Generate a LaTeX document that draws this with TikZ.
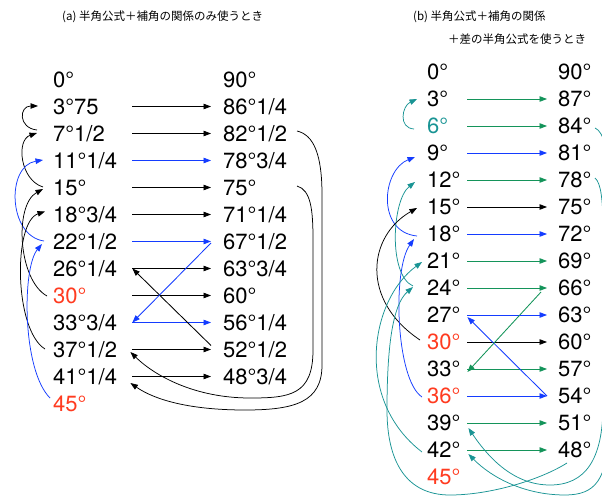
\documentclass[tikz,border=0pt]{standalone}
\usepackage{fontspec}
\setmainfont{TeX Gyre Heros}
\newfontfamily\cjk{Noto Sans CJK JP}
\usetikzlibrary{arrows.meta}
\definecolor{cred}{RGB}{255,59,32}
\definecolor{cblue}{RGB}{20,60,255}
\definecolor{cgreen}{RGB}{20,148,90}
\definecolor{cteal}{RGB}{25,148,148}
\begin{document}
\begin{tikzpicture}[x=1pt,y=-1pt,
  lab/.style={font=\fontsize{22}{26}\selectfont, inner sep=0pt, text height=15.8pt, text depth=0pt, anchor=west},
  lleft/.style={lab, text width=#1, align=left},
  lright/.style={lab, inner xsep=#1},
  ttl/.style={font=\cjk\fontsize{11.5}{14}\selectfont, inner sep=0pt, anchor=west},
  arr/.style={line width=0.85pt, -{Triangle[length=7.5pt,width=5.5pt]}},
  carr/.style={line width=0.75pt, -{Triangle[length=7.5pt,width=5.5pt]}},
]
\fill[white] (0,0) rectangle (602,497);
\useasboundingbox (0,0) rectangle (602,497);

% titles
\node[ttl] (ta) at (62,17) {(a) 半角公式＋補角の関係のみ使うとき};
\node[ttl] (tb1) at (413,17) {(b) 半角公式＋補角の関係};
\node[ttl] (tb2) at (448,39) {＋差の半角公式を使うとき};

% ---------- panel (a) ----------
\node[lleft=79pt] (a0) at (53,79.5) {0°};
\node[lleft=79pt] (a1) at (53,106.5) {3°75};
\node[lleft=79pt] (a2) at (53,133.5) {7°1/2};
\node[lleft=79pt] (a3) at (53,160.5) {11°1/4};
\node[lleft=79pt] (a4) at (53,187.5) {15°};
\node[lleft=79pt] (a5) at (53,214.5) {18°3/4};
\node[lleft=79pt] (a6) at (53,241.5) {22°1/2};
\node[lleft=79pt] (a7) at (53,268.5) {26°1/4};
\node[lleft=79pt,text=cred] (a8) at (53,295.5) {30°};
\node[lleft=79pt] (a9) at (53,322.5) {33°3/4};
\node[lleft=79pt] (a10) at (53,349.5) {37°1/2};
\node[lleft=79pt] (a11) at (53,376.5) {41°1/4};
\node[lleft=79pt,text=cred] (a12) at (53,403.5) {45°};

\node[lright=12pt] (A0) at (211,79.5) {90°};
\node[lright=12pt] (A1) at (211,106.5) {86°1/4};
\node[lright=12pt] (A2) at (211,133.5) {82°1/2};
\node[lright=12pt] (A3) at (211,160.5) {78°3/4};
\node[lright=12pt] (A4) at (211,187.5) {75°};
\node[lright=12pt] (A5) at (211,214.5) {71°1/4};
\node[lright=12pt] (A6) at (211,241.5) {67°1/2};
\node[lright=12pt] (A7) at (211,268.5) {63°3/4};
\node[lright=12pt] (A8) at (211,295.5) {60°};
\node[lright=12pt] (A9) at (211,322.5) {56°1/4};
\node[lright=12pt] (A10) at (211,349.5) {52°1/2};
\node[lright=12pt] (A11) at (211,376.5) {48°3/4};

\draw[arr] (a1.east) -- (A1.west);
\draw[arr] (a2.east) -- (A2.west);
\draw[arr,cblue] (a3.east) -- (A3.west);
\draw[arr] (a4.east) -- (A4.west);
\draw[arr] (a5.east) -- (A5.west);
\draw[arr,cblue] (a6.east) -- (A6.west);
\draw[arr] (a7.east) -- (A7.west);
\draw[arr] (a8.east) -- (A8.west);
\draw[arr,cblue] (a9.east) -- (A9.west);
\draw[arr] (a10.east) -- (A10.west);
\draw[arr] (a11.east) -- (A11.west);

\draw[arr] ([shift={(0,-4)}]A10.west) -- (a7.east);
\draw[arr,cblue] ([shift={(0,1.5)}]A6.west) -- (a9.east);

\draw[carr] ([shift={(-16,-3.5)}]a2.west) .. controls (18,128) and (19,106) .. ([shift={(-15,-0.5)}]a1.west);
\draw[carr] ([shift={(-10,-0.5)}]a4.west) .. controls (20,180) and (16,140) .. ([shift={(-16,-0.5)}]a2.west);
\draw[carr,cblue] ([shift={(-9,-0.5)}]a6.west) .. controls (8,236) and (6,166) .. ([shift={(-10,-0.5)}]a3.west);
\draw[carr] ([shift={(-6,0.5)}]a8.west) .. controls (18,280) and (14,205) .. ([shift={(-10,1.5)}]a4.west);
\draw[carr] ([shift={(-8,-0.5)}]a10.west) .. controls (14,330) and (13,222) .. ([shift={(-8,-3)}]a5.west);
\draw[carr,cblue] ([shift={(-3,-5.5)}]a12.west) .. controls (22,370) and (22,268) .. ([shift={(-11,2.5)}]a6.west);

\draw[carr] ([shift={(86,-1.5)}]A4.west) .. controls (311,190) and (313,210) .. (313,240) -- (313,350)
   .. controls (313,395) and (290,398) .. (250,398) .. controls (195,398) and (155,376) .. ([shift={(-2,2.5)}]a10.east);
\draw[carr] ([shift={(86,-2.5)}]A2.west) .. controls (314,135) and (322,155) .. (322,195) -- (322,365)
   .. controls (322,402) and (295,410) .. (245,410) .. controls (190,410) and (155,400) .. ([shift={(-2,6.5)}]a11.east);

% ---------- panel (b) ----------
\node[lleft=40pt] (b0) at (427,72) {0°};
\node[lleft=40pt] (b1) at (427,99) {3°};
\node[lleft=40pt,text=cteal] (b2) at (427,126) {6°};
\node[lleft=40pt] (b3) at (427,153) {9°};
\node[lleft=40pt] (b4) at (427,180) {12°};
\node[lleft=40pt] (b5) at (427,207) {15°};
\node[lleft=40pt] (b6) at (427,234) {18°};
\node[lleft=40pt] (b7) at (427,261) {21°};
\node[lleft=40pt] (b8) at (427,288) {24°};
\node[lleft=40pt] (b9) at (427,315) {27°};
\node[lleft=40pt,text=cred] (b10) at (427,342) {30°};
\node[lleft=40pt] (b11) at (427,369) {33°};
\node[lleft=40pt,text=cred] (b12) at (427,396) {36°};
\node[lleft=40pt] (b13) at (427,423) {39°};
\node[lleft=40pt] (b14) at (427,450) {42°};
\node[lleft=40pt,text=cred] (b15) at (427,477) {45°};

\node[lright=11pt] (B0) at (547,72) {90°};
\node[lright=11pt] (B1) at (547,99) {87°};
\node[lright=11pt] (B2) at (547,126) {84°};
\node[lright=11pt] (B3) at (547,153) {81°};
\node[lright=11pt] (B4) at (547,180) {78°};
\node[lright=11pt] (B5) at (547,207) {75°};
\node[lright=11pt] (B6) at (547,234) {72°};
\node[lright=11pt] (B7) at (547,261) {69°};
\node[lright=11pt] (B8) at (547,288) {66°};
\node[lright=11pt] (B9) at (547,315) {63°};
\node[lright=11pt] (B10) at (547,342) {60°};
\node[lright=11pt] (B11) at (547,369) {57°};
\node[lright=11pt] (B12) at (547,396) {54°};
\node[lright=11pt] (B13) at (547,423) {51°};
\node[lright=11pt] (B14) at (547,450) {48°};

\draw[arr,cgreen] (b1.east) -- (B1.west);
\draw[arr,cgreen] (b2.east) -- (B2.west);
\draw[arr,cblue] (b3.east) -- (B3.west);
\draw[arr,cgreen] (b4.east) -- (B4.west);
\draw[arr] (b5.east) -- (B5.west);
\draw[arr,cblue] (b6.east) -- (B6.west);
\draw[arr,cgreen] (b7.east) -- (B7.west);
\draw[arr,cgreen] (b8.east) -- (B8.west);
\draw[arr,cblue] (b9.east) -- (B9.west);
\draw[arr] (b10.east) -- (B10.west);
\draw[arr,cgreen] (b11.east) -- (B11.west);
\draw[arr,cblue] (b12.east) -- (B12.west);
\draw[arr,cgreen] (b13.east) -- (B13.west);
\draw[arr,cgreen] (b14.east) -- (B14.west);

\draw[arr,cblue] (B12.west) -- ([shift={(0,2)}]b9.east);
\draw[arr,cgreen] ([shift={(-6,4)}]B8.west) -- ([shift={(0,3)}]b11.east);

\draw[carr,cteal] ([shift={(-13,3)}]b2.west) .. controls (398,128) and (402,106) .. ([shift={(-10,0)}]b1.west);
\draw[carr,cblue] ([shift={(-10,2)}]b6.west) .. controls (376,232) and (382,170) .. ([shift={(-12,4)}]b3.west);
\draw[carr,cteal] ([shift={(-14,-2)}]b8.west) .. controls (388,275) and (392,200) .. ([shift={(-12,2)}]b4.west);
\draw[carr] ([shift={(-7,-2)}]b10.west) .. controls (360,300) and (368,236) .. ([shift={(-10,1)}]b5.west);
\draw[carr,cblue] ([shift={(-5,1)}]b12.west) .. controls (396,380) and (392,270) .. ([shift={(-13,5)}]b6.west);
\draw[carr,cteal] ([shift={(-5,2)}]b14.west) .. controls (354,400) and (370,300) .. ([shift={(-5,1)}]b7.west);
\draw[carr,cteal] ([shift={(20,13)}]B14.west) .. controls (540,480) and (490,495) .. (450,495)
   .. controls (405,495) and (387,460) .. (387,410) .. controls (387,350) and (392,305) .. ([shift={(-14,-1)}]b8.west);

\draw[carr,cteal] ([shift={(48,2)}]B2.west) .. controls (604,132) and (608,150) .. (608,185) -- (608,430)
   .. controls (608,480) and (595,495) .. (565,495) .. controls (525,495) and (492,478) .. ([shift={(1,4)}]b14.east);
\draw[carr,cteal] ([shift={(48,-2)}]B4.west) .. controls (601,183) and (603,200) .. (603,230) -- (603,405)
   .. controls (603,460) and (585,485) .. (550,485) .. controls (515,485) and (490,460) .. ([shift={(1,5)}]b13.east);
\end{tikzpicture}
\end{document}
